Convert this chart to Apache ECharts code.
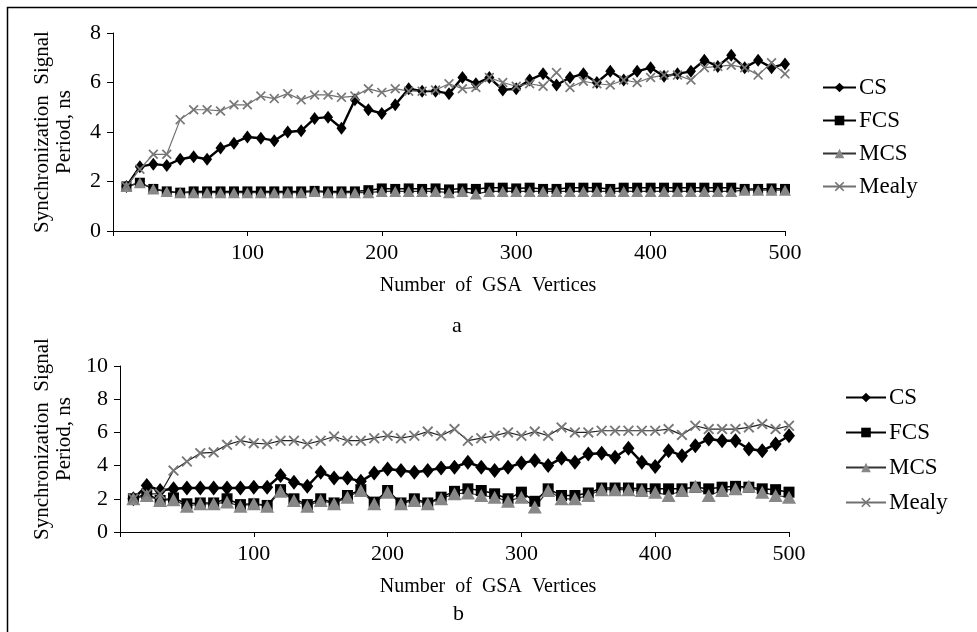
<!DOCTYPE html>
<html>
<head>
<meta charset="utf-8">
<script src="https://cdn.jsdelivr.net/npm/echarts@6/dist/echarts.min.js"></script>
<style>
html,body{margin:0;padding:0;background:#fff;}
#chart{width:977px;height:632px;}
</style>
</head>
<body>
<div id="chart"></div>
<script>
// x values: number of GSA vertices
var vertices = [10,20,30,40,50,60,70,80,90,100,
  110,120,130,140,150,160,170,180,190,200,
  210,220,230,240,250,260,270,280,290,300,
  310,320,330,340,350,360,370,380,390,400,
  410,420,430,440,450,460,470,480,490,500];
var xTicks = [100,200,300,400,500];
var seriesNames = ['CS','FCS','MCS','Mealy'];

// Panel a
var csA = [1.8,2.6,2.7,2.65,2.9,3.0,2.9,3.35,3.55,3.8,
  3.75,3.65,4.0,4.05,4.55,4.6,4.15,5.3,4.9,4.75,
  5.1,5.75,5.65,5.65,5.55,6.2,5.95,6.2,5.7,5.75,
  6.1,6.35,5.9,6.2,6.35,6.0,6.45,6.1,6.45,6.6,
  6.25,6.35,6.45,6.9,6.65,7.1,6.6,6.9,6.6,6.75];
var fcsA = [1.8,1.95,1.7,1.6,1.55,1.6,1.6,1.6,1.6,1.6,
  1.6,1.6,1.6,1.6,1.62,1.6,1.6,1.6,1.65,1.72,
  1.7,1.72,1.7,1.72,1.68,1.72,1.7,1.75,1.75,1.72,
  1.75,1.7,1.7,1.75,1.75,1.75,1.7,1.75,1.75,1.75,
  1.75,1.75,1.75,1.75,1.75,1.75,1.7,1.7,1.72,1.7];
var mcsA = [1.8,1.95,1.7,1.6,1.55,1.55,1.55,1.55,1.55,1.55,
  1.55,1.55,1.55,1.55,1.6,1.55,1.55,1.55,1.55,1.6,
  1.6,1.6,1.6,1.6,1.55,1.6,1.5,1.6,1.6,1.6,
  1.6,1.6,1.6,1.6,1.6,1.6,1.6,1.6,1.6,1.6,
  1.6,1.6,1.6,1.6,1.6,1.6,1.65,1.65,1.65,1.65];
var mealyA = [1.8,2.5,3.1,3.1,4.5,4.9,4.9,4.85,5.1,5.1,
  5.45,5.35,5.55,5.3,5.5,5.5,5.4,5.45,5.75,5.6,
  5.75,5.65,5.65,5.7,5.95,5.75,5.8,6.2,6.0,5.85,
  5.95,5.85,6.4,5.8,6.05,5.95,5.9,6.1,6.0,6.2,
  6.3,6.3,6.1,6.6,6.65,6.7,6.6,6.3,6.8,6.35];

// Panel b
var csB = [2.0,2.8,2.5,2.6,2.65,2.65,2.65,2.65,2.65,2.7,
  2.7,3.4,3.0,2.75,3.6,3.25,3.25,3.05,3.55,3.8,
  3.7,3.6,3.7,3.85,3.9,4.2,3.9,3.7,3.9,4.15,
  4.3,4.0,4.45,4.2,4.7,4.75,4.5,5.05,4.2,3.95,
  4.9,4.6,5.2,5.6,5.5,5.5,5.0,4.9,5.3,5.8];
var fcsB = [2.0,2.3,1.9,2.05,1.7,1.75,1.75,2.0,1.65,1.7,
  1.6,2.55,2.0,1.65,2.0,1.75,2.2,2.55,1.8,2.5,
  1.75,2.0,1.75,2.1,2.45,2.6,2.5,2.3,2.0,2.4,
  1.85,2.6,2.2,2.2,2.35,2.65,2.65,2.65,2.6,2.6,
  2.6,2.6,2.7,2.6,2.7,2.75,2.7,2.6,2.55,2.4];
var mcsB = [2.0,2.2,1.9,1.95,1.55,1.7,1.7,1.8,1.55,1.7,
  1.55,2.45,1.9,1.55,1.9,1.7,2.1,2.5,1.7,2.4,
  1.7,1.9,1.7,2.0,2.3,2.35,2.2,2.1,1.85,2.1,
  1.5,2.5,2.0,2.0,2.2,2.55,2.55,2.55,2.5,2.4,
  2.2,2.5,2.75,2.2,2.5,2.6,2.75,2.4,2.2,2.1];
var mealyB = [2.0,2.3,2.3,3.7,4.25,4.75,4.8,5.25,5.5,5.35,
  5.3,5.5,5.5,5.3,5.5,5.75,5.5,5.5,5.65,5.8,
  5.65,5.8,6.05,5.8,6.2,5.5,5.65,5.8,6.0,5.8,
  6.05,5.8,6.3,6.0,6.0,6.1,6.1,6.1,6.1,6.1,
  6.2,5.85,6.4,6.2,6.2,6.2,6.3,6.5,6.2,6.4];

var FONT = '"Liberation Serif", "DejaVu Serif", serif';
var X_SYMBOL = 'path://M0,1.2L1.2,0L5,3.8L8.8,0L10,1.2L6.2,5L10,8.8L8.8,10L5,6.2L1.2,10L0,8.8L3.8,5Z';

function pairs(arr){ return vertices.map(function(x,i){ return [x, arr[i]]; }); }

function makeSeries(idx, cs, fcs, mcs, mealy){
  var big = idx === 1;
  return [
    {name:'CS', type:'line', xAxisIndex:idx, yAxisIndex:idx, data:pairs(cs),
     symbol:'diamond', symbolSize: big ? [12,15] : [10,13], lineStyle:{color:'#000', width: big ? 2.5 : 2.4},
     itemStyle:{color:'#000'}},
    {name:'FCS', type:'line', xAxisIndex:idx, yAxisIndex:idx, data:pairs(fcs),
     symbol:'rect', symbolSize: big ? 11 : 10, lineStyle:{color:'#000', width:1.5},
     itemStyle:{color:'#000'}},
    {name:'MCS', type:'line', xAxisIndex:idx, yAxisIndex:idx, data:pairs(mcs),
     symbol:'triangle', symbolSize: big ? [14,13] : [12,11], lineStyle:{color:'#333', width:1.2},
     itemStyle:{color:'#878787'}},
    {name:'Mealy', type:'line', xAxisIndex:idx, yAxisIndex:idx, data:pairs(mealy),
     symbol:X_SYMBOL, symbolSize: big ? 11 : 10, lineStyle:{color: big ? '#222' : '#707070', width:1.2},
     itemStyle:{color:'#777'}}
  ];
}

function xAxisCfg(idx, padLeft){
  return {
    type:'value', gridIndex:idx, min:0, max:500, interval:100,
    name:'Number  of  GSA  Vertices', nameLocation:'middle', nameGap:45,
    nameTextStyle:{fontFamily:FONT, fontSize:20, color:'#000', padding:[0,0,0,padLeft]},
    axisLine:{show:true, lineStyle:{color:'#000', width:1}},
    axisTick:{show:true, inside:false, length:5, lineStyle:{color:'#000'}},
    axisLabel:{fontFamily:FONT, fontSize:22, color:'#000', margin:11,
      formatter:function(v){ return xTicks.indexOf(v) >= 0 ? String(v) : ''; }},
    splitLine:{show:false}
  };
}

function yAxisCfg(idx, max, padLeft){
  return {
    type:'value', gridIndex:idx, min:0, max:max, interval:2,
    name:'Synchronization  Signal\nPeriod, ns', nameLocation:'middle', nameGap:38, nameRotate:90,
    nameTextStyle:{fontFamily:FONT, fontSize:21, color:'#000', lineHeight:22, padding:[0,0,0,padLeft]},
    axisLine:{show:true, lineStyle:{color:'#000', width:1}},
    axisTick:{show:true, inside:false, length:6, lineStyle:{color:'#000'}},
    axisLabel:{fontFamily:FONT, fontSize:22, color:'#000', margin:12},
    splitLine:{show:false}
  };
}

function legendCfg(left, top, w, gap){
  return {
    data:seriesNames, orient:'vertical', left:left, top:top,
    itemWidth:w, itemHeight:12, itemGap:gap,
    textStyle:{fontFamily:FONT, fontSize:23, color:'#000', padding:[0,0,0,-2]},
    inactiveColor:'#ccc'
  };
}

var chart = echarts.init(document.getElementById('chart'), null, {renderer:'canvas'});
chart.setOption({
  animation:false,
  backgroundColor:'#fff',
  graphic:[
    {type:'rect', shape:{x:7.5, y:7.5, width:1000, height:1000}, style:{fill:null, stroke:'#000', lineWidth:1.5}, silent:true},
    {type:'text', left:452, top:315, style:{text:'a', fontFamily:FONT, fontSize:22, fill:'#000'}},
    {type:'text', left:453, top:603, style:{text:'b', fontFamily:FONT, fontSize:22, fill:'#000'}}
  ],
  legend:[legendCfg(817, 71, 33, 10), legendCfg(840, 381, 40, 12)],
  grid:[
    {left:113, right:192, top:33, bottom:401},
    {left:120, right:188, top:366, bottom:100}
  ],
  xAxis:[xAxisCfg(0, 78), xAxisCfg(1, 67)],
  yAxis:[yAxisCfg(0, 8, 0), yAxisCfg(1, 10, 20)],
  series: makeSeries(0, csA, fcsA, mcsA, mealyA).concat(makeSeries(1, csB, fcsB, mcsB, mealyB))
});
</script>
</body>
</html>
